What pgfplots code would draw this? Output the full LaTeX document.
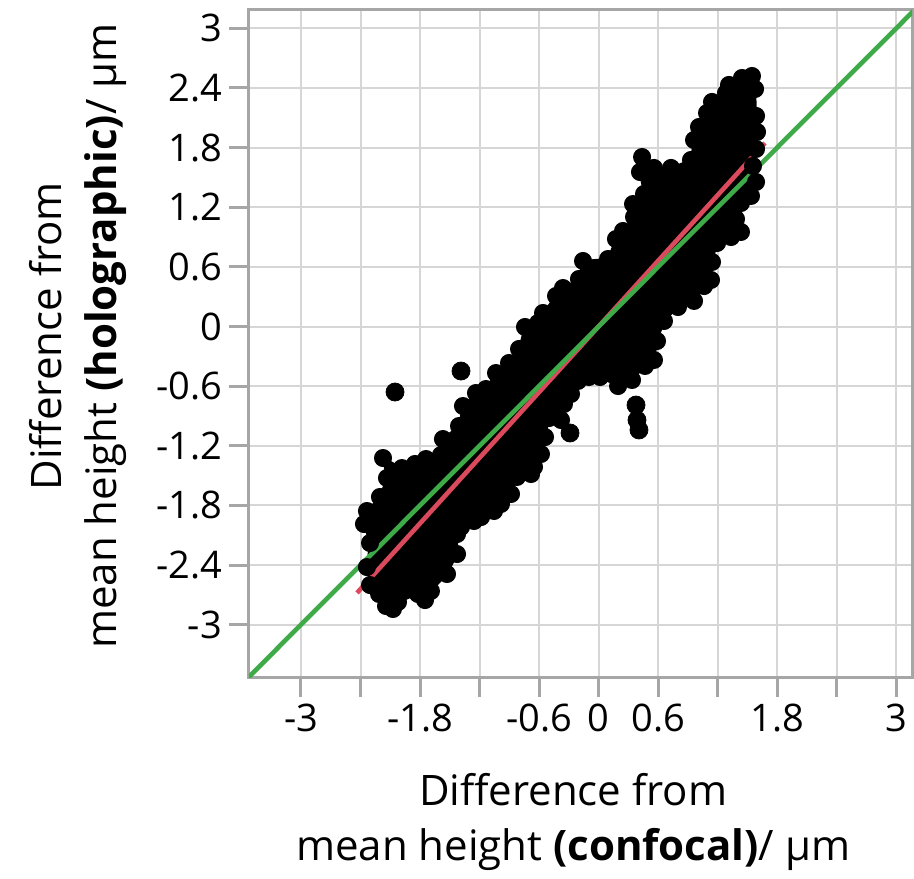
\documentclass[border=0pt]{standalone}
\usepackage{pgfplots}
\usepackage{pgfplotstable}
\pgfplotsset{compat=1.18}
\usepackage{fontspec}
\setmainfont{Open Sans}
\usetikzlibrary{calc}

\definecolor{gridgray}{RGB}{214,214,214}
\definecolor{axgray}{RGB}{166,166,166}
\definecolor{fitgreen}{RGB}{62,170,72}
\definecolor{fitred}{RGB}{218,74,92}

% outline of the dense point cloud (marker centres)
\pgfplotstableread{
x y
1.546 2.520
1.577 2.389
1.587 2.118
1.597 1.957
1.587 1.786
1.556 1.615
1.587 1.454
1.536 1.313
1.435 1.242
1.385 1.081
1.435 0.951
1.335 0.900
1.194 0.840
1.143 0.649
1.133 0.468
1.063 0.407
0.962 0.257
0.800 0.196
0.659 0.055
0.589 -0.146
0.558 -0.337
0.468 -0.397
0.337 -0.538
0.196 -0.599
0.014 -0.508
-0.097 -0.508
-0.208 -0.548
-0.278 -0.679
-0.349 -0.780
-0.379 -0.941
-0.500 -0.921
-0.540 -1.112
-0.581 -1.283
-0.651 -1.413
-0.681 -1.484
-0.823 -1.514
-0.883 -1.685
-0.984 -1.786
-1.054 -1.856
-1.185 -1.917
-1.256 -1.957
-1.387 -2.017
-1.427 -2.088
-1.427 -2.289
-1.528 -2.490
-1.690 -2.661
-1.750 -2.752
-1.821 -2.691
-2.022 -2.772
-2.073 -2.842
-2.143 -2.812
-2.213 -2.691
-2.304 -2.601
-2.335 -2.420
-2.304 -2.178
-2.365 -1.987
-2.335 -1.856
-2.204 -1.715
-2.133 -1.524
-2.173 -1.323
-1.982 -1.424
-1.851 -1.383
-1.740 -1.333
-1.589 -1.293
-1.569 -1.132
-1.407 -1.001
-1.367 -0.800
-1.236 -0.669
-1.135 -0.629
-1.034 -0.468
-0.903 -0.367
-0.802 -0.226
-0.742 -0.005
-0.611 0.035
-0.560 0.136
-0.429 0.307
-0.359 0.387
-0.198 0.478
-0.157 0.659
0.095 0.679
0.175 0.880
0.246 0.961
0.357 1.102
0.347 1.232
0.458 1.333
0.417 1.554
0.438 1.705
0.558 1.595
0.730 1.595
0.931 1.675
0.962 1.876
1.012 2.007
1.093 2.148
1.143 2.259
1.284 2.349
1.314 2.430
1.445 2.500
}\cloud

% isolated points
\pgfplotstableread{
x y
-2.052 -0.659
-1.387 -0.448
-0.288 -1.071
0.377 -0.790
0.387 -0.941
0.407 -1.041
}\outliers

\begin{document}
\begin{tikzpicture}
\begin{axis}[
  scale only axis,
  width=331.5pt, height=333.5pt,
  xmin=-3.524, xmax=3.159,
  ymin=-3.526, ymax=3.184,
  xtick={-3,-2.4,-1.8,-1.2,-0.6,0,0.6,1.2,1.8,2.4,3},
  xticklabels={-3,{},-1.8,{},-0.6,0,0.6,{},1.8,{},3},
  ytick={-3,-2.4,-1.8,-1.2,-0.6,0,0.6,1.2,1.8,2.4,3},
  yticklabels={-3,-2.4,-1.8,-1.2,-0.6,0,0.6,1.2,1.8,2.4,3},
  xtick pos=bottom, ytick pos=left,
  tick align=outside,
  major tick length=10pt,
  tick style={draw=axgray, line width=1.5pt},
  axis line style={draw=axgray, line width=1.5pt},
  grid=major,
  major grid style={draw=gridgray, line width=1pt},
  ticklabel style={font=\fontsize{19}{19}\selectfont, text=black},
  every axis x label/.style={at={(axis description cs:0.489,-0.144)}, anchor=north},
  every axis y label/.style={at={(axis description cs:-0.184,0.511)}, rotate=90, anchor=south},
  label style={font=\fontsize{21}{27.5}\selectfont, align=center, inner sep=0pt},
  xlabel={Difference from\\mean height \textbf{(confocal)}/ µm},
  ylabel={Difference from\\mean height \textbf{(holographic)}/ µm},
  clip=true,
]
\addplot[fill=black, draw=black, line width=1pt] table[x=x,y=y] {\cloud} -- cycle;
\addplot[only marks, mark=*, mark size=4.3pt, black, mark options={fill=black, draw=black}] table[x=x,y=y] {\cloud};
\addplot[only marks, mark=*, mark size=4.5pt, black, mark options={fill=black, draw=black}] table[x=x,y=y] {\outliers};
\addplot[fitred, line width=2.3pt] coordinates {(-2.435,-2.68) (1.677,1.846)};
\addplot[fitgreen, line width=2.3pt] coordinates {(-3.6,-3.6) (3.3,3.3)};
\end{axis}
\pgfresetboundingbox
\useasboundingbox ($(current axis.south west)+(-124.5pt,-100.5pt)$) rectangle ($(current axis.north east)+(1pt,5pt)$);
\end{tikzpicture}
\end{document}
